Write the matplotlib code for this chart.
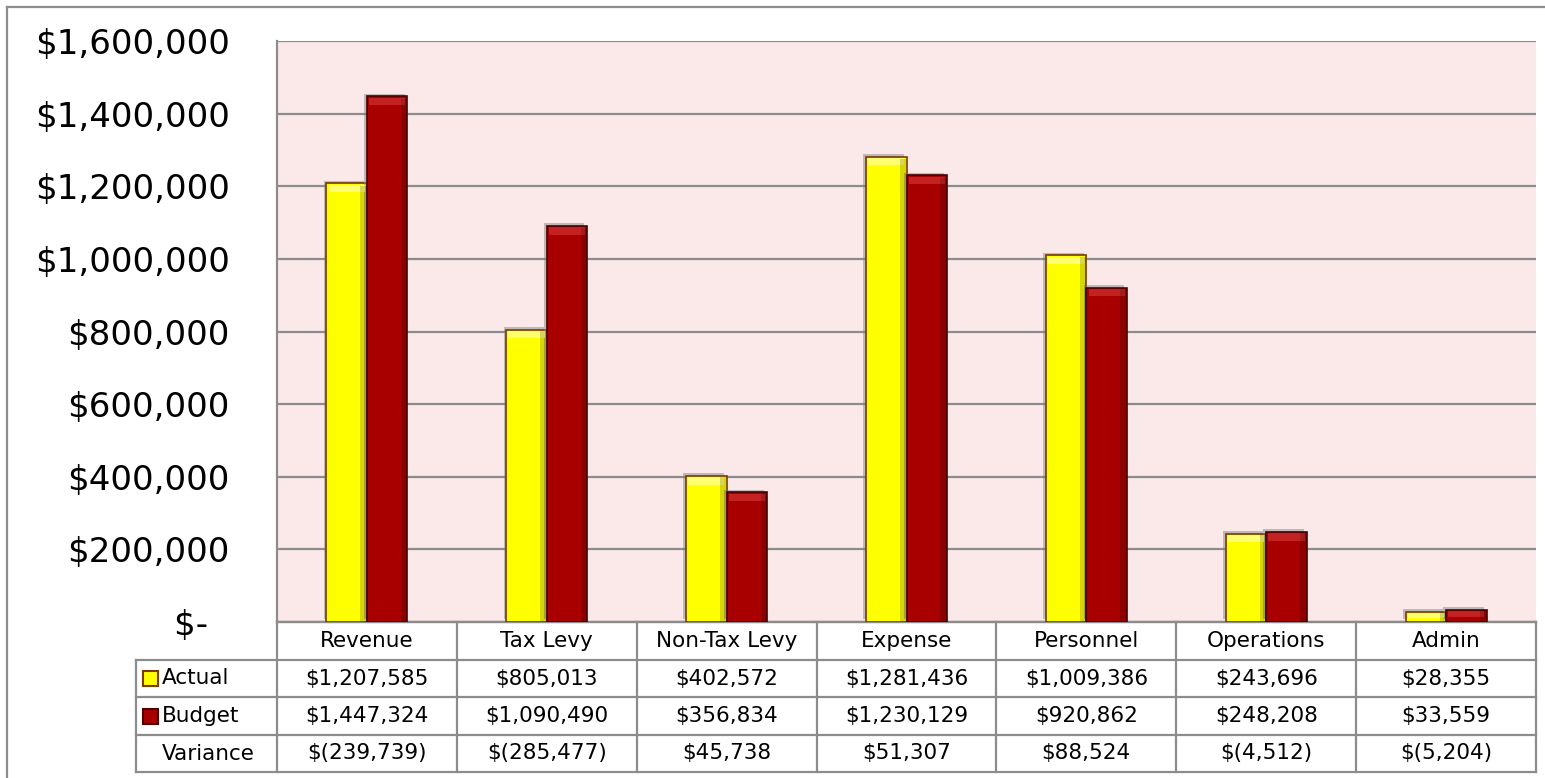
import matplotlib
matplotlib.use("Agg")
import matplotlib.pyplot as plt
import matplotlib.patheffects as pe
from matplotlib.transforms import blended_transform_factory
from matplotlib.patches import Rectangle
from matplotlib.lines import Line2D

# data
categories = ["Revenue", "Tax Levy", "Non-Tax Levy", "Expense", "Personnel", "Operations", "Admin"]
actual = [1207585, 805013, 402572, 1281436, 1009386, 243696, 28355]
budget = [1447324, 1090490, 356834, 1230129, 920862, 248208, 33559]
variance = [-239739, -285477, 45738, 51307, 88524, -4512, -5204]
y_ticks = [0, 200000, 400000, 600000, 800000, 1000000, 1200000, 1400000, 1600000]

def money(v):
    if v < 0:
        return "$({:,})".format(-v)
    return "${:,}".format(v)

plt.rcParams['font.family'] = ['DejaVu Sans']

W, H = 1545, 778
fig = plt.figure(figsize=(W / 100, H / 100), dpi=100)
fig.patch.set_facecolor("white")

# plot area in pixels: left 277, right 1536, top 41, bottom 622
L, R, T, B = 277, 1536, 41, 622
ax = fig.add_axes([L / W, 1 - B / H, (R - L) / W, (B - T) / H])
ax.set_facecolor("#fbe9e9")

grid_col = "#8c8c8c"
n = len(categories)
xs = list(range(n))
bw = 0.225

shadow = [pe.SimplePatchShadow(offset=(-2, 2), shadow_rgbFace="#7a7a7a", alpha=0.45), pe.Normal()]
b1 = ax.bar([x - bw / 2 for x in xs], actual, width=bw, color="#ffff00",
            edgecolor="#7a3a00", linewidth=1.2, zorder=3)
b2 = ax.bar([x + bw / 2 for x in xs], budget, width=bw, color="#a80000",
            edgecolor="#4a0000", linewidth=1.2, zorder=3)
for bars, top_col in ((b1, "#ffff70"), (b2, "#c42222")):
    for r in bars:
        r.set_path_effects(shadow)
        # simple bevel: lighter cap on top, darker strip on the right
        h = r.get_height()
        cap = min(h * 0.6, 24000)
        ax.add_patch(Rectangle((r.get_x() + 0.012, h - cap), r.get_width() - 0.024, cap * 0.85,
                               facecolor=top_col, edgecolor="none", zorder=4))
        ax.add_patch(Rectangle((r.get_x() + r.get_width() * 0.84, 0), r.get_width() * 0.15,
                               h * 0.995, facecolor="black", alpha=0.16,
                               edgecolor="none", zorder=4))

ax.set_xlim(-0.5, n - 0.5)
ax.set_ylim(0, 1600000)
ax.set_yticks(y_ticks)
ax.set_yticklabels([("$-  " if v == 0 else "${:,}".format(v)) for v in y_ticks], fontsize=24.5)
ax.tick_params(axis="y", length=0, pad=34)
ax.set_xticks([])
ax.yaxis.grid(True, color=grid_col, linewidth=1.6, zorder=1)
ax.set_axisbelow(True)
for s in ("top", "right"):
    ax.spines[s].set_visible(False)
ax.spines["left"].set_color(grid_col)
ax.spines["left"].set_linewidth(1.6)
ax.spines["bottom"].set_color(grid_col)
ax.spines["bottom"].set_linewidth(1.6)

# data table under the plot
tr = blended_transform_factory(ax.transData, ax.transAxes)
def fy(py):
    return (B - py) / (B - T)

rows_px = [622, 660, 697, 735, 772]
lab_left = -0.5 - 141 / 180.0
lc = dict(color=grid_col, linewidth=1.6, transform=tr, clip_on=False)

# horizontal lines
ax.add_line(Line2D([-0.5, n - 0.5], [fy(rows_px[0])] * 2, **lc))
for py in rows_px[1:]:
    ax.add_line(Line2D([lab_left, n - 0.5], [fy(py)] * 2, **lc))
# vertical lines
for i in range(n + 1):
    ax.add_line(Line2D([i - 0.5, i - 0.5], [fy(rows_px[0]), fy(rows_px[-1])], **lc))
ax.add_line(Line2D([lab_left, lab_left], [fy(rows_px[1]), fy(rows_px[-1])], **lc))

def mid(k):
    return fy((rows_px[k] + rows_px[k + 1]) / 2)

fs = 15.5
for i, c in enumerate(categories):
    ax.text(i, mid(0), c, transform=tr, ha="center", va="center", fontsize=fs, clip_on=False)
    ax.text(i, mid(1), money(actual[i]), transform=tr, ha="center", va="center", fontsize=fs)
    ax.text(i, mid(2), money(budget[i]), transform=tr, ha="center", va="center", fontsize=fs)
    ax.text(i, mid(3), money(variance[i]), transform=tr, ha="center", va="center", fontsize=fs)

text_x = lab_left + 26 / 180.0
key_x = lab_left + 7 / 180.0
kw = 15 / 180.0
kh = 15 / (B - T)
for k, (lab, fc, ec) in enumerate((("Actual", "#ffff00", "#7a3a00"), ("Budget", "#a80000", "#4a0000"))):
    ax.add_patch(Rectangle((key_x, mid(k + 1) - kh / 2), kw, kh, facecolor=fc, edgecolor=ec,
                           linewidth=1.5, transform=tr, clip_on=False))
    ax.text(text_x, mid(k + 1), lab, transform=tr, ha="left", va="center", fontsize=fs)
ax.text(text_x, mid(3), "Variance", transform=tr, ha="left", va="center", fontsize=fs)

# outer chart border (top and left visible)
fig.add_artist(Line2D([7 / W, 1], [1 - 7 / H] * 2, color=grid_col, linewidth=1.6))
fig.add_artist(Line2D([7 / W, 7 / W], [0, 1 - 7 / H], color=grid_col, linewidth=1.6))

fig.savefig("out.png", dpi=100)
